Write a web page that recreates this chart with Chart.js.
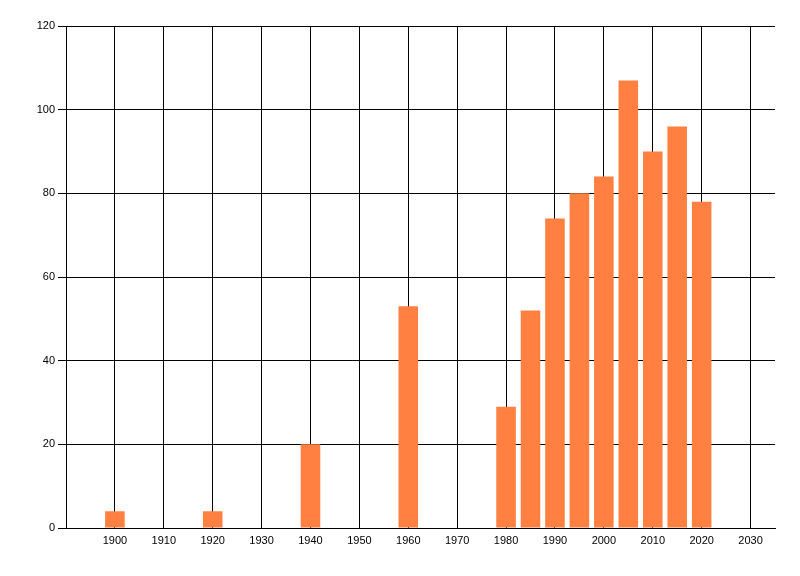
<!DOCTYPE html>
<html>
<head>
<meta charset="utf-8">
<script src="https://cdn.jsdelivr.net/npm/chart.js@4/dist/chart.umd.min.js"></script>
<style>
  html, body { margin: 0; padding: 0; background: #fff; }
  #wrap { width: 800px; height: 576px; }
</style>
</head>
<body>
<div id="wrap"><canvas id="bars"></canvas></div>
<script>
// values
const years = [1900, 1920, 1940, 1960, 1980, 1985, 1990, 1995, 2000, 2005, 2010, 2015, 2020]
const counts = [4, 4, 20, 53, 29, 52, 74, 80, 84, 107, 90, 96, 78]
const xTicks = [1900, 1910, 1920, 1930, 1940, 1950, 1960, 1970, 1980, 1990, 2000, 2010, 2020, 2030]
const yTicks = [0, 20, 40, 60, 80, 100, 120]

Chart.defaults.font.family = '"Liberation Sans", Arial, sans-serif'
Chart.defaults.font.size = 11
Chart.defaults.color = '#000'

const barConfig = {
  type: 'bar',
  data: {
    datasets: [
      {
        label: 'Count',
        backgroundColor: '#ff8040',
        borderWidth: 0,
        categoryPercentage: 1,
        barPercentage: 0.8,
        data: years.map((y, i) => ({ x: y, y: counts[i] })),
      },
    ],
  },
  options: {
    responsive: true,
    maintainAspectRatio: false,
    animation: false,
    layout: { padding: { top: 26, right: 25, bottom: 0, left: 0 } },
    plugins: {
      legend: { display: false },
      tooltip: { enabled: false },
    },
    scales: {
      x: {
        type: 'linear',
        min: 1890,
        max: 2035,
        offset: false,
        afterBuildTicks: (axis) => { axis.ticks = xTicks.map(v => ({ value: v })) },
        afterFit: (axis) => { axis.height = 48 },
        ticks: { padding: 6, maxRotation: 0, autoSkip: false, callback: (v) => String(v) },
        grid: { color: '#000', lineWidth: 1, drawTicks: false, offset: false },
        border: { color: '#000', width: 1 },
      },
      y: {
        min: 0,
        max: 120,
        afterBuildTicks: (axis) => { axis.ticks = yTicks.map(v => ({ value: v })) },
        afterFit: (axis) => { axis.width = 66 },
        ticks: { padding: 3 },
        grid: { color: '#000', lineWidth: 1, tickLength: 8 },
        border: { color: '#000', width: 1 },
      },
    },
  },
}

const barsCtx = document.getElementById('bars')
window.myBar = new Chart(barsCtx, barConfig)
</script>
</body>
</html>
